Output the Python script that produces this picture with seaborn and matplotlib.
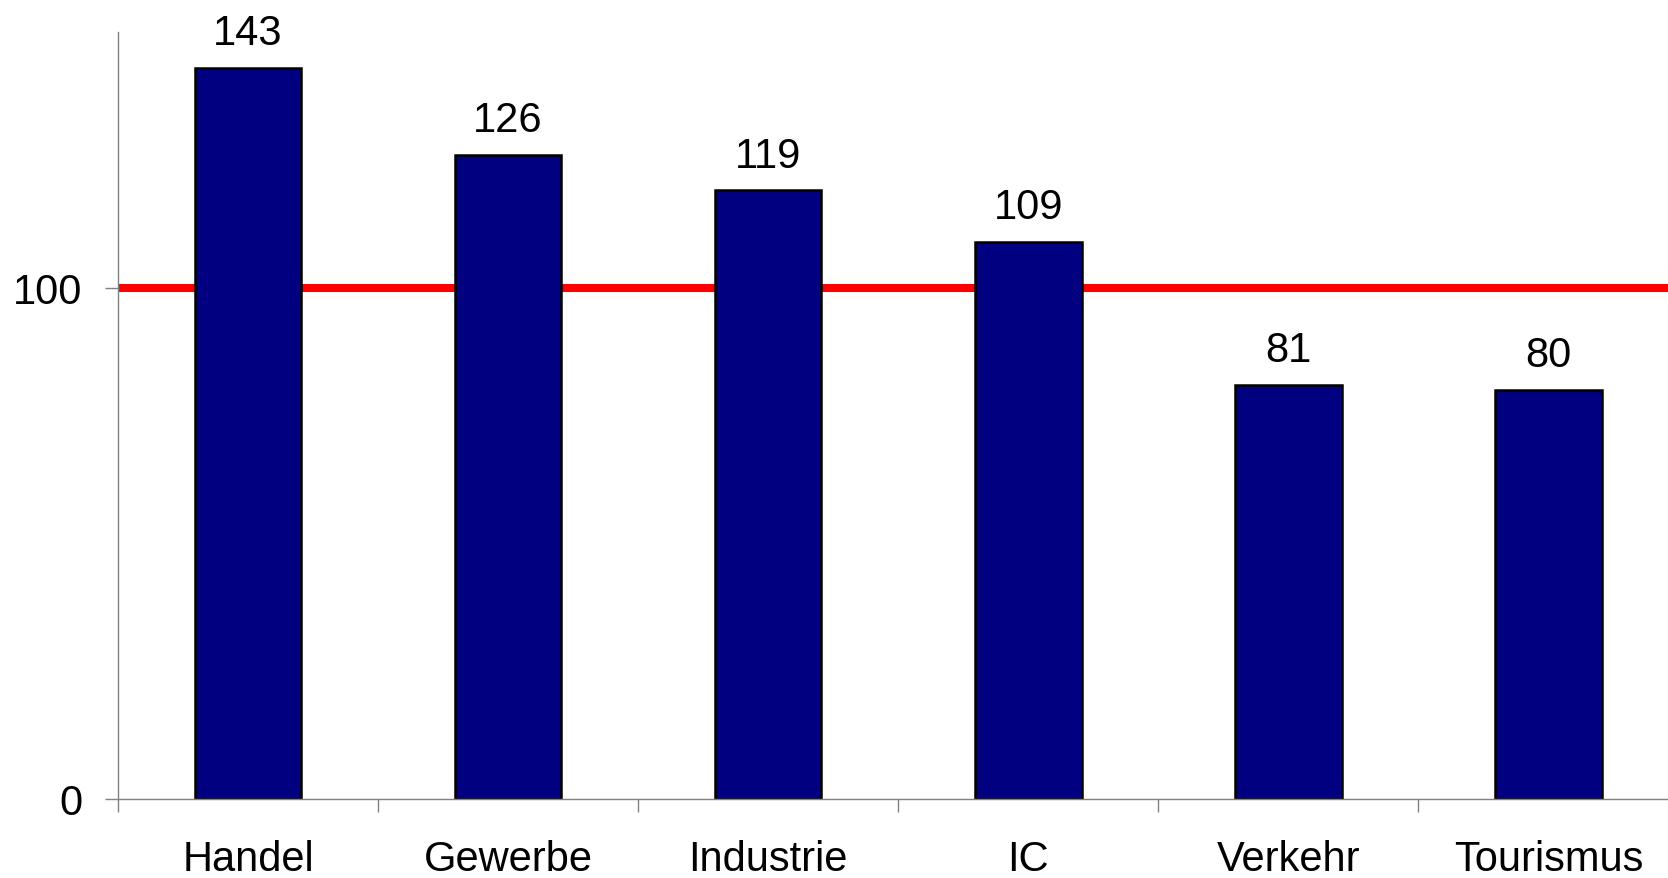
import matplotlib
matplotlib.use("Agg")
import matplotlib.pyplot as plt
import seaborn as sns
import pandas as pd
import numpy as np

# Index values per sector (reference level = 100)
categories = ["Handel", "Gewerbe", "Industrie", "IC", "Verkehr", "Tourismus"]
values = [143, 126, 119, 109, 81, 80]
reference_level = 100
y_ticks = [0, 100]

sns.set_theme(style="white")
plt.rcParams["font.family"] = ["Liberation Sans", "DejaVu Sans"]
plt.rcParams["text.color"] = "black"
plt.rcParams["xtick.labelcolor"] = "black"
plt.rcParams["ytick.labelcolor"] = "black"

df = pd.DataFrame({"Sektor": categories, "Index": values})

fig = plt.figure(figsize=(16.68, 8.79), dpi=100)
ax = fig.add_axes([0.0707, 0.0899, 0.9293, 0.8726])

sns.barplot(data=df, x="Sektor", y="Index", color="#000080", saturation=1,
            edgecolor="black", linewidth=1.8, width=0.41, ax=ax)

# Reference line at 100
ax.axhline(reference_level, color="#ff0000", linewidth=5.8, zorder=1.5)
for p in ax.patches:
    p.set_zorder(2)

# Value labels above bars
for i, v in enumerate(values):
    ax.annotate(f"{v}", xy=(i, v), xytext=(0, 17), textcoords="offset points",
                ha="center", va="baseline", fontsize=30, color="black")

ax.set_ylim(0, 150)
ax.set_xlim(-0.5, 5.46)

# Axis styling
axis_gray = "#808080"
for side in ["top", "right"]:
    ax.spines[side].set_visible(False)
for side in ["left", "bottom"]:
    ax.spines[side].set_color(axis_gray)
    ax.spines[side].set_linewidth(1.0)

ax.set_yticks(y_ticks)
ax.set_yticklabels([str(t) for t in y_ticks], fontsize=30, color="black")
ax.tick_params(axis="y", direction="out", length=9.5, width=1.0, color=axis_gray,
               pad=16, left=True, labelcolor="black")

# Tick marks between categories, labels centered under the bars
n = len(categories)
ax.set_xticks(np.arange(n) - 0.5)
ax.set_xticklabels([""] * n)
ax.set_xticks(np.arange(n), minor=True)
ax.set_xticklabels(categories, minor=True, fontsize=30, color="black")
ax.tick_params(axis="x", which="major", direction="out", length=9.5, width=1.0,
               color=axis_gray, bottom=True)
ax.tick_params(axis="x", which="minor", length=0, pad=29, bottom=True,
               labelcolor="black")

ax.set_xlabel("")
ax.set_ylabel("")
ax.grid(False)

fig.savefig("out.png", dpi=100)
